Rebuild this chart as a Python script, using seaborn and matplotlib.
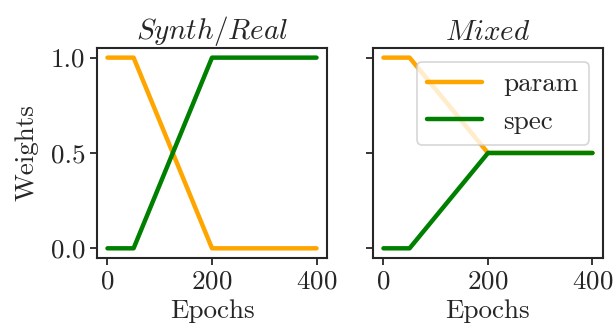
import numpy as np
import pandas as pd
import matplotlib
matplotlib.use('Agg')
import matplotlib.pyplot as plt
import seaborn as sns

# --- Pesos de las pérdidas por época ---
epochs = [0, 50, 200, 400]
synth_param = [1.0, 1.0, 0.0, 0.0]
synth_spec = [0.0, 0.0, 1.0, 1.0]
mixed_param = [1.0, 1.0, 0.5, 0.5]
mixed_spec = [0.0, 0.0, 0.5, 0.5]
titles = ['$Synth/Real$', '$Mixed$']

sns.set_style('ticks')
plt.rcParams['font.family'] = 'serif'
plt.rcParams['font.serif'] = ['cmr10', 'DejaVu Serif']
plt.rcParams['mathtext.fontset'] = 'cm'
plt.rcParams['axes.formatter.use_mathtext'] = True
plt.rcParams['font.size'] = 19.5
plt.rcParams['axes.linewidth'] = 1.5


def long_df(param, spec):
    return pd.DataFrame({
        'epoch': epochs * 2,
        'weight': param + spec,
        'loss': ['param'] * len(epochs) + ['spec'] * len(epochs),
    })


fig, axes = plt.subplots(1, 2, figsize=(6.14, 3.34), dpi=100, sharey=True)
palette = {'param': 'orange', 'spec': 'green'}

for ax, (param, spec), title in zip(axes, [(synth_param, synth_spec), (mixed_param, mixed_spec)], titles):
    sns.lineplot(data=long_df(param, spec), x='epoch', y='weight', hue='loss',
                 palette=palette, linewidth=3.2, ax=ax, legend=(ax is axes[1]))
    ax.set_title(title, fontsize=21)
    ax.set_xlabel('Epochs')
    ax.set_xticks([0, 200, 400])
    ax.set_yticks([0.0, 0.5, 1.0])
    for s in ax.spines.values():
        s.set_linewidth(1.5)
    ax.tick_params(width=1.3, length=5)

axes[0].set_ylabel('Weights', labelpad=9)
axes[0].set_yticklabels(['0.0', '0.5', '1.0'])
leg = axes[1].legend(loc='upper right', fontsize=19.5, handlelength=2.0)
leg.get_frame().set_linewidth(1.2)

plt.subplots_adjust(left=0.158, right=0.982, top=0.856, bottom=0.228, wspace=0.2)
fig.savefig('out.png', dpi=100)
